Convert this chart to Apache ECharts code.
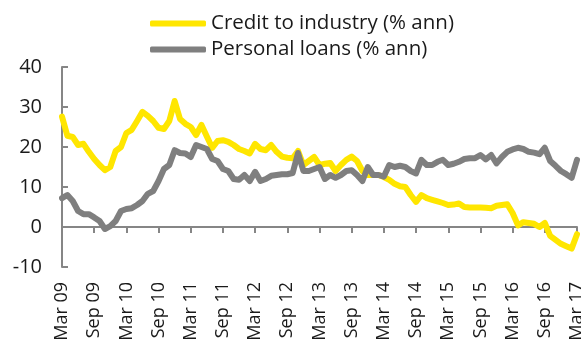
<!DOCTYPE html>
<html>
<head>
<meta charset="utf-8">
<script src="https://cdn.jsdelivr.net/npm/echarts@6/dist/echarts.min.js"></script>
<style>
  html, body { margin: 0; padding: 0; background: #ffffff; }
  #chart { width: 581px; height: 349px; }
</style>
</head>
<body>
<div id="chart"></div>
<script>
// Monthly series, Mar 2009 to Mar 2017 (97 months)
const monthNames = ['Jan','Feb','Mar','Apr','May','Jun','Jul','Aug','Sep','Oct','Nov','Dec'];
const startYear = 2009, startMonth = 2, monthCount = 97;
const categories = [];
for (let i = 0; i < monthCount; i++) {
  const m = (startMonth + i) % 12;
  const y = startYear + Math.floor((startMonth + i) / 12);
  categories.push(monthNames[m] + ' ' + String(y % 100).padStart(2, '0'));
}

const seriesNames = ['Credit to industry (% ann)', 'Personal loans (% ann)'];

const creditToIndustry = [
  27.6, 22.8, 22.5, 20.5, 20.8, 18.8, 17.0, 15.5, 14.2, 15.0,
  19.0, 20.0, 23.5, 24.3, 26.5, 28.8, 27.8, 26.5, 24.8, 24.5,
  26.5, 31.5, 27.0, 25.8, 25.0, 23.0, 25.5, 22.6, 19.8, 21.5,
  21.7, 21.3, 20.5, 19.5, 19.0, 18.4, 20.8, 19.5, 19.2, 20.5,
  18.8, 17.6, 17.3, 17.2, 19.0, 15.5, 16.5, 17.5, 15.5, 15.8,
  16.0, 14.0, 15.5, 16.8, 17.6, 16.5, 14.0, 13.0, 13.0, 13.0,
  12.5, 11.8, 10.8, 10.2, 10.0, 8.0, 6.3, 8.0, 7.2, 6.8,
  6.4, 6.0, 5.5, 5.6, 5.9, 5.0, 4.9, 4.9, 4.9, 4.8,
  4.7, 5.3, 5.5, 5.7, 3.5, 0.4, 1.2, 1.0, 0.8, 0.0,
  1.0, -2.2, -3.2, -4.2, -4.8, -5.4, -1.8
];

const personalLoans = [
  7.2, 8.0, 6.5, 4.0, 3.2, 3.2, 2.4, 1.5, -0.5, 0.2,
  1.5, 4.0, 4.5, 4.7, 5.5, 6.5, 8.3, 9.0, 11.5, 14.5,
  15.5, 19.2, 18.5, 18.4, 17.5, 20.5, 20.0, 19.5, 17.0, 16.5,
  14.5, 14.0, 12.0, 11.8, 13.0, 11.5, 13.8, 11.5, 12.0, 12.8,
  13.0, 13.2, 13.2, 13.5, 18.5, 14.0, 14.0, 14.5, 15.0, 12.0,
  13.0, 12.3, 13.0, 14.0, 14.2, 13.0, 11.5, 15.0, 13.0, 13.0,
  12.6, 15.5, 15.0, 15.3, 15.0, 14.0, 13.4, 16.8, 15.5, 15.5,
  16.3, 16.8, 15.5, 15.8, 16.3, 17.0, 17.2, 17.2, 18.0, 16.9,
  18.0, 15.9, 17.5, 18.8, 19.4, 19.8, 19.5, 18.8, 18.6, 18.2,
  19.8, 16.5, 15.3, 14.0, 13.2, 12.3, 16.8
];

const yTicks = { min: -10, max: 40, step: 10 };

const axisGrey = '#868686';
const textColor = '#1a1a1a';
const fontFamily = 'Open Sans';

const chart = echarts.init(document.getElementById('chart'), null, { renderer: 'canvas' });

chart.setOption({
  animation: false,
  backgroundColor: '#ffffff',
  textStyle: { fontFamily: fontFamily, color: textColor },
  legend: {
    orient: 'vertical',
    left: 150,
    top: 13,
    padding: 0,
    itemWidth: 56,
    itemHeight: 6,
    itemGap: 5,
    icon: 'roundRect',
    textStyle: { fontSize: 20.5, color: textColor, fontFamily: fontFamily, lineHeight: 20 },
    data: seriesNames
  },
  grid: { left: 62, right: 4, top: 67, bottom: 82, containLabel: false, outerBoundsMode: 'none' },
  xAxis: {
    type: 'category',
    data: categories,
    boundaryGap: false,
    axisLine: { onZero: true, lineStyle: { color: axisGrey, width: 2 } },
    axisTick: { show: true, interval: 5, length: 6, lineStyle: { color: axisGrey, width: 2 } },
    axisLabel: {
      interval: 5,
      rotate: 90,
      margin: 15,
      fontSize: 18,
      color: textColor,
      fontFamily: fontFamily
    },
    splitLine: { show: false }
  },
  yAxis: {
    type: 'value',
    min: yTicks.min,
    max: yTicks.max,
    interval: yTicks.step,
    axisLine: { show: true, onZero: false, lineStyle: { color: axisGrey, width: 2 } },
    axisTick: { show: true, inside: true, length: 6, lineStyle: { color: axisGrey, width: 2 } },
    axisLabel: { margin: 20, fontSize: 20, color: textColor, fontFamily: fontFamily },
    splitLine: { show: false }
  },
  series: [
    {
      name: seriesNames[0],
      type: 'line',
      data: creditToIndustry,
      showSymbol: false,
      symbol: 'none',
      lineStyle: { color: '#FFE600', width: 6, cap: 'round', join: 'round' },
      itemStyle: { color: '#FFE600' }
    },
    {
      name: seriesNames[1],
      type: 'line',
      data: personalLoans,
      showSymbol: false,
      symbol: 'none',
      lineStyle: { color: '#7F7F7F', width: 6, cap: 'round', join: 'round' },
      itemStyle: { color: '#7F7F7F' }
    }
  ]
});
</script>
</body>
</html>
